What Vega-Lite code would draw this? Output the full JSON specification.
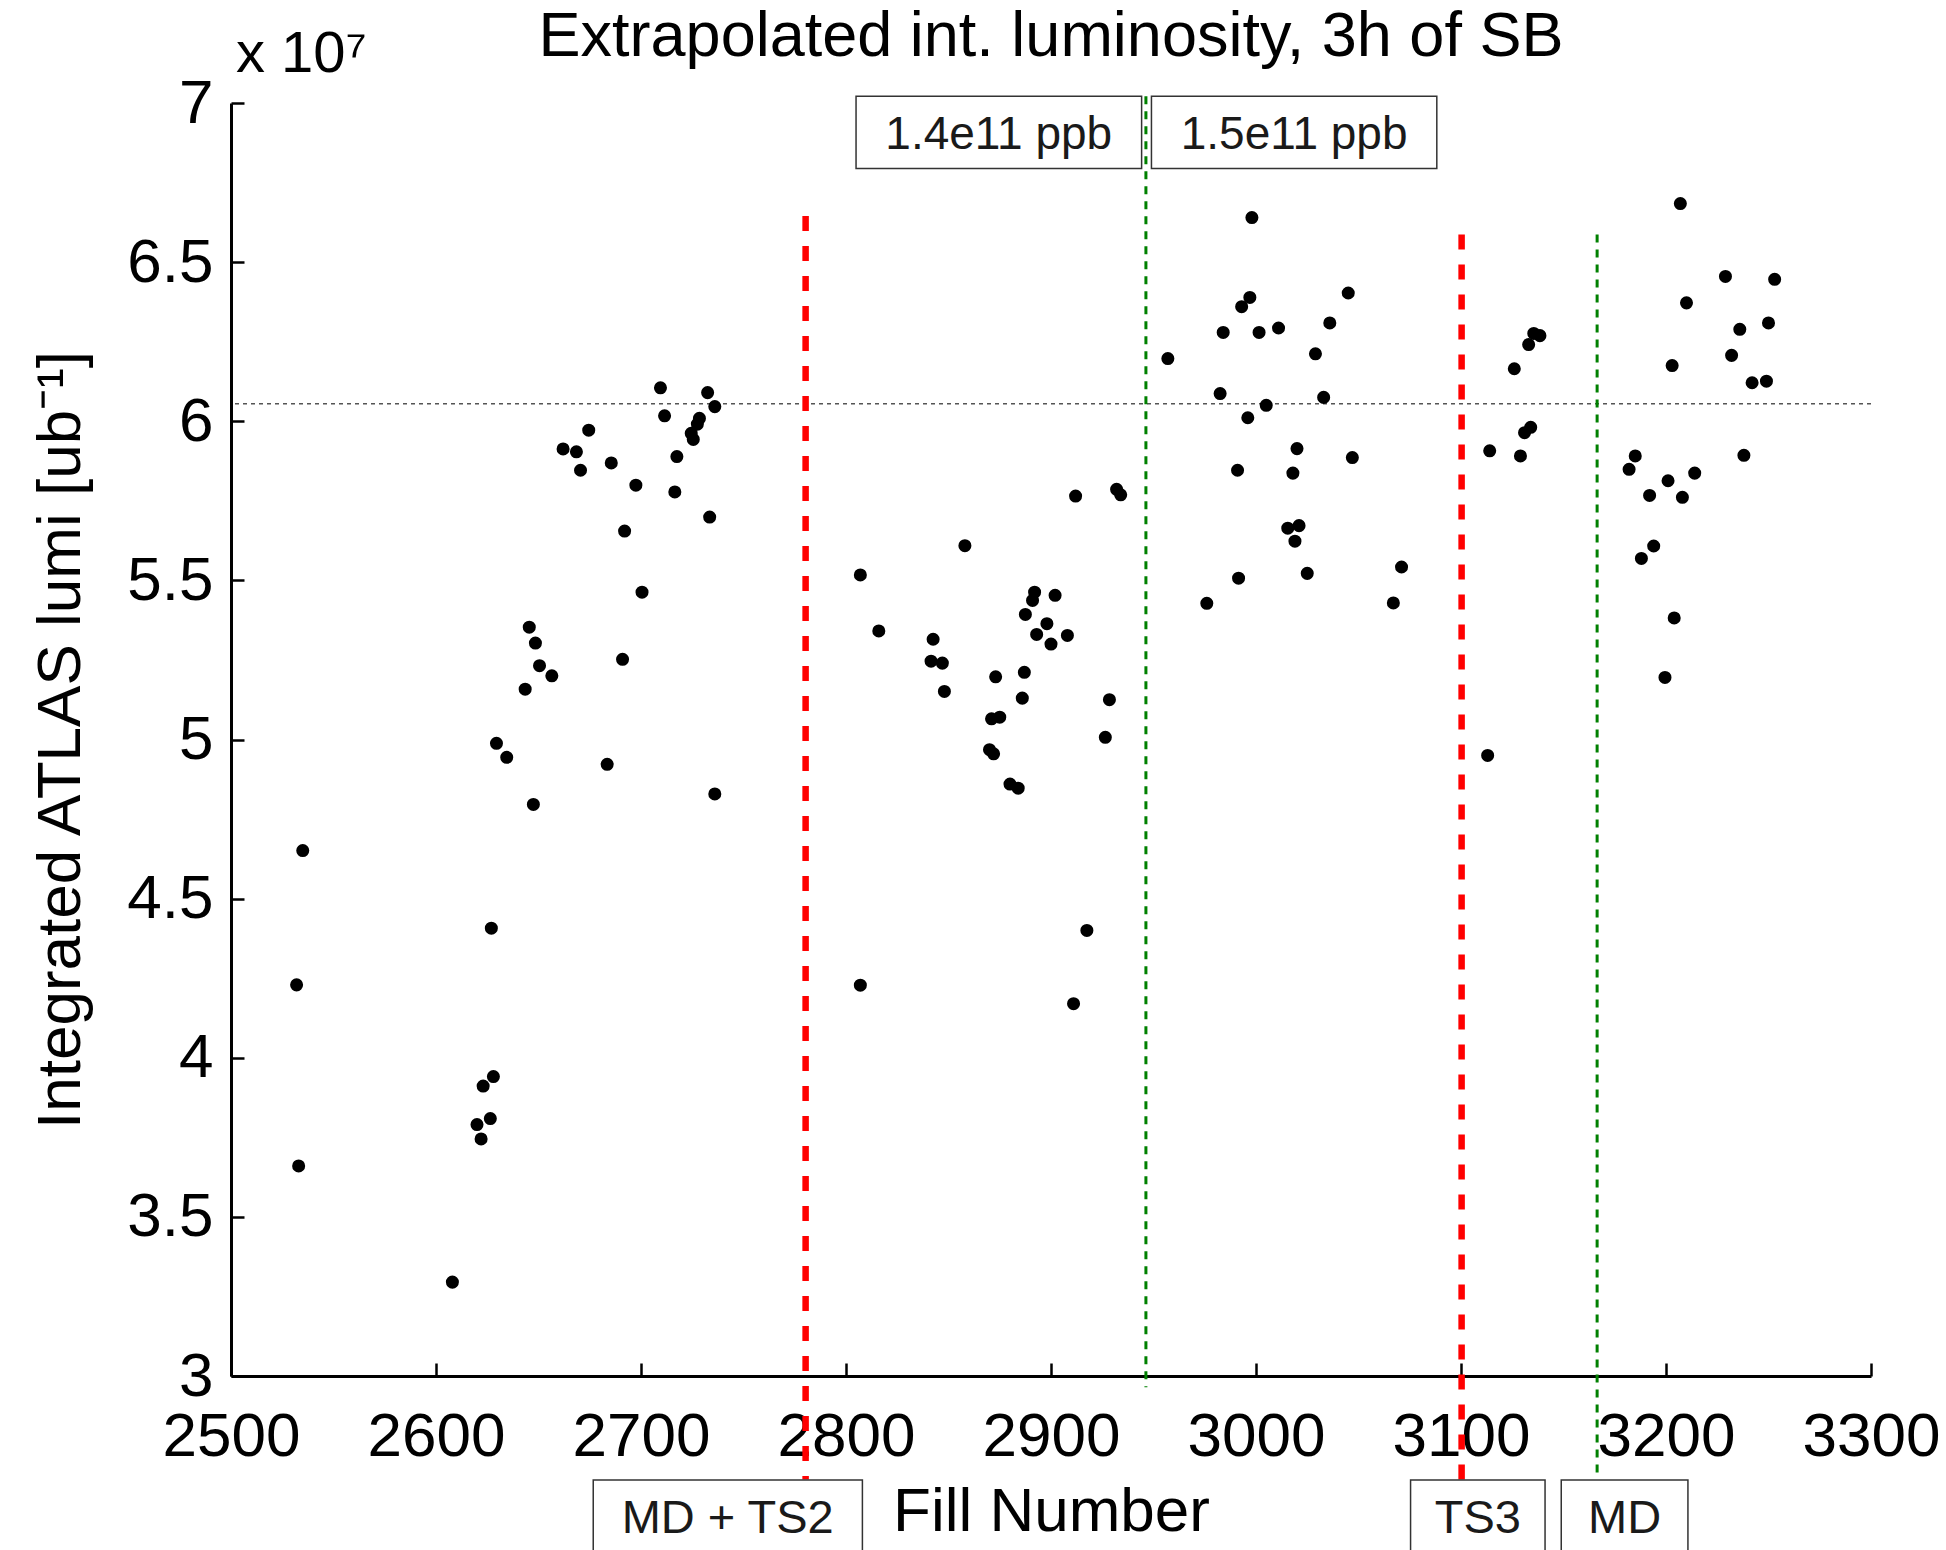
{
  "$schema": "https://vega.github.io/schema/vega-lite/v6.json",
  "width": 1640,
  "height": 1273,
  "autosize": {"type": "none"},
  "padding": {"left": 231, "top": 103, "right": 75, "bottom": 174},
  "background": "white",
  "config": {"view": {"stroke": null}, "font": "Liberation Sans"},
  "title": {
    "text": "Extrapolated int. luminosity, 3h of SB",
    "fontSize": 63,
    "fontWeight": "normal",
    "font": "Liberation Sans",
    "color": "black",
    "anchor": "middle",
    "frame": "group",
    "baseline": "alphabetic",
    "offset": -93
  },
  "layer": [
    {
      "data": {"values": [{"reference": 6.055}]},
      "mark": {"type": "rule", "color": "#555555", "strokeWidth": 1.5, "strokeDash": [4, 4]},
      "encoding": {
        "y": {"field": "reference", "type": "quantitative"}
      }
    },
    {
      "data": {"values": [{"event": "MD + TS2", "fill": 2780.3}]},
      "mark": {"type": "rule", "color": "#ff0000", "strokeWidth": 6.5, "strokeDash": [15, 15]},
      "encoding": {
        "x": {"field": "fill", "type": "quantitative"},
        "y": {"datum": 6.645, "type": "quantitative"},
        "y2": {"datum": 2.675}
      }
    },
    {
      "data": {"values": [{"event": "TS3", "fill": 3100.3}]},
      "mark": {"type": "rule", "color": "#ff0000", "strokeWidth": 6.5, "strokeDash": [15, 15]},
      "encoding": {
        "x": {"field": "fill", "type": "quantitative"},
        "y": {"datum": 6.587, "type": "quantitative"},
        "y2": {"datum": 2.675}
      }
    },
    {
      "data": {"values": [{"event": "bunch intensity change", "fill": 2946.3}]},
      "mark": {"type": "rule", "color": "#008000", "strokeWidth": 3, "strokeDash": [8, 7]},
      "encoding": {
        "x": {"field": "fill", "type": "quantitative"},
        "y": {"datum": 7.021, "type": "quantitative"},
        "y2": {"datum": 2.965}
      }
    },
    {
      "data": {"values": [{"event": "MD", "fill": 3166.4}]},
      "mark": {"type": "rule", "color": "#008000", "strokeWidth": 3, "strokeDash": [8, 7]},
      "encoding": {
        "x": {"field": "fill", "type": "quantitative"},
        "y": {"datum": 6.587, "type": "quantitative"},
        "y2": {"datum": 2.675}
      }
    },
    {
      "data": {"values": [
        {"fill": 2535, "lumi": 4.651}, {"fill": 2532, "lumi": 4.229}, {"fill": 2533, "lumi": 3.660},
        {"fill": 2608, "lumi": 3.295}, {"fill": 2620, "lumi": 3.790}, {"fill": 2622, "lumi": 3.745},
        {"fill": 2623, "lumi": 3.911}, {"fill": 2626.5, "lumi": 3.809}, {"fill": 2628, "lumi": 3.941},
        {"fill": 2627, "lumi": 4.407}, {"fill": 2629.5, "lumi": 4.988}, {"fill": 2634.5, "lumi": 4.944},
        {"fill": 2647.5, "lumi": 4.796}, {"fill": 2643.5, "lumi": 5.158}, {"fill": 2645.5, "lumi": 5.353},
        {"fill": 2648.5, "lumi": 5.303}, {"fill": 2650.5, "lumi": 5.232}, {"fill": 2656.5, "lumi": 5.200},
        {"fill": 2662, "lumi": 5.913}, {"fill": 2668.5, "lumi": 5.904}, {"fill": 2670.5, "lumi": 5.846},
        {"fill": 2674.5, "lumi": 5.972}, {"fill": 2683.5, "lumi": 4.922}, {"fill": 2685.5, "lumi": 5.869},
        {"fill": 2692, "lumi": 5.655}, {"fill": 2691, "lumi": 5.252}, {"fill": 2697.5, "lumi": 5.799},
        {"fill": 2700.5, "lumi": 5.463}, {"fill": 2709.5, "lumi": 6.105}, {"fill": 2711.5, "lumi": 6.017},
        {"fill": 2716.5, "lumi": 5.778}, {"fill": 2717.5, "lumi": 5.889}, {"fill": 2724.5, "lumi": 5.962},
        {"fill": 2725.5, "lumi": 5.943}, {"fill": 2727.5, "lumi": 5.991}, {"fill": 2728.5, "lumi": 6.009},
        {"fill": 2732.5, "lumi": 6.090}, {"fill": 2736, "lumi": 6.046}, {"fill": 2733.5, "lumi": 5.699},
        {"fill": 2736, "lumi": 4.829},
        {"fill": 2807, "lumi": 5.517}, {"fill": 2816, "lumi": 5.341}, {"fill": 2807, "lumi": 4.228},
        {"fill": 2858, "lumi": 5.609}, {"fill": 2842.5, "lumi": 5.315}, {"fill": 2841.5, "lumi": 5.246},
        {"fill": 2847, "lumi": 5.240}, {"fill": 2848, "lumi": 5.151}, {"fill": 2871, "lumi": 5.065},
        {"fill": 2875, "lumi": 5.070}, {"fill": 2870, "lumi": 4.968}, {"fill": 2872, "lumi": 4.955},
        {"fill": 2873, "lumi": 5.197}, {"fill": 2880, "lumi": 4.860}, {"fill": 2884, "lumi": 4.847},
        {"fill": 2887, "lumi": 5.211}, {"fill": 2886, "lumi": 5.130}, {"fill": 2887.5, "lumi": 5.393},
        {"fill": 2892, "lumi": 5.463}, {"fill": 2891, "lumi": 5.437}, {"fill": 2893, "lumi": 5.330},
        {"fill": 2898, "lumi": 5.364}, {"fill": 2900, "lumi": 5.300}, {"fill": 2902, "lumi": 5.453},
        {"fill": 2908, "lumi": 5.327}, {"fill": 2912, "lumi": 5.765}, {"fill": 2911, "lumi": 4.170},
        {"fill": 2917.5, "lumi": 4.400}, {"fill": 2926.5, "lumi": 5.007}, {"fill": 2928.5, "lumi": 5.125},
        {"fill": 2932, "lumi": 5.786}, {"fill": 2934, "lumi": 5.769},
        {"fill": 2998, "lumi": 6.640}, {"fill": 2997, "lumi": 6.389}, {"fill": 2993, "lumi": 6.360},
        {"fill": 3045, "lumi": 6.403}, {"fill": 2984, "lumi": 6.279}, {"fill": 3001.5, "lumi": 6.279},
        {"fill": 3011, "lumi": 6.293}, {"fill": 3036, "lumi": 6.309}, {"fill": 2957, "lumi": 6.197},
        {"fill": 3029, "lumi": 6.212}, {"fill": 2982.5, "lumi": 6.087}, {"fill": 3033, "lumi": 6.075},
        {"fill": 3005, "lumi": 6.050}, {"fill": 2996, "lumi": 6.011}, {"fill": 3020, "lumi": 5.914},
        {"fill": 3047, "lumi": 5.886}, {"fill": 2991, "lumi": 5.846}, {"fill": 3018, "lumi": 5.837},
        {"fill": 3015.5, "lumi": 5.664}, {"fill": 3021, "lumi": 5.672}, {"fill": 3019, "lumi": 5.623},
        {"fill": 2991.5, "lumi": 5.507}, {"fill": 3025, "lumi": 5.522}, {"fill": 3071, "lumi": 5.542},
        {"fill": 2976, "lumi": 5.428}, {"fill": 3067, "lumi": 5.429},
        {"fill": 3207, "lumi": 6.684}, {"fill": 3229, "lumi": 6.455}, {"fill": 3253, "lumi": 6.446},
        {"fill": 3210, "lumi": 6.372}, {"fill": 3236, "lumi": 6.289}, {"fill": 3250, "lumi": 6.309},
        {"fill": 3232, "lumi": 6.207}, {"fill": 3203, "lumi": 6.175}, {"fill": 3242, "lumi": 6.121},
        {"fill": 3249, "lumi": 6.126}, {"fill": 3135.5, "lumi": 6.276}, {"fill": 3138.5, "lumi": 6.269},
        {"fill": 3133, "lumi": 6.241}, {"fill": 3126, "lumi": 6.165}, {"fill": 3134, "lumi": 5.981},
        {"fill": 3131, "lumi": 5.964}, {"fill": 3114, "lumi": 5.907}, {"fill": 3129, "lumi": 5.891},
        {"fill": 3238, "lumi": 5.893}, {"fill": 3185, "lumi": 5.891}, {"fill": 3182, "lumi": 5.849},
        {"fill": 3214, "lumi": 5.837}, {"fill": 3201, "lumi": 5.813}, {"fill": 3192, "lumi": 5.767},
        {"fill": 3208, "lumi": 5.761}, {"fill": 3194, "lumi": 5.608}, {"fill": 3188, "lumi": 5.569},
        {"fill": 3204, "lumi": 5.382}, {"fill": 3199.5, "lumi": 5.195}, {"fill": 3113, "lumi": 4.950}
      ]},
      "mark": {"type": "circle", "size": 170, "color": "black", "opacity": 1},
      "encoding": {
        "x": {
          "field": "fill",
          "type": "quantitative",
          "scale": {"domain": [2500, 3300], "nice": false, "zero": false},
          "axis": {
            "title": "Fill Number",
            "values": [2500, 2600, 2700, 2800, 2900, 3000, 3100, 3200, 3300],
            "format": "d",
            "grid": false,
            "labelFont": "Liberation Sans",
            "labelFontSize": 62,
            "labelColor": "black",
            "labelFlush": false,
            "labelOverlap": false,
            "labelPadding": 43,
            "tickSize": -13,
            "tickWidth": 2.5,
            "tickColor": "black",
            "domainColor": "black",
            "domainWidth": 3,
            "titleFont": "Liberation Sans",
            "titleFontSize": 62,
            "titleFontWeight": "normal",
            "titleColor": "black",
            "titlePadding": 14
          }
        },
        "y": {
          "field": "lumi",
          "type": "quantitative",
          "scale": {"domain": [3, 7], "nice": false, "zero": false},
          "axis": {
            "title": "Integrated ATLAS lumi [ub⁻¹]",
            "values": [3, 3.5, 4, 4.5, 5, 5.5, 6, 6.5, 7],
            "format": "~g",
            "grid": false,
            "labelFont": "Liberation Sans",
            "labelFontSize": 62,
            "labelColor": "black",
            "labelFlush": false,
            "labelOverlap": false,
            "labelPadding": 31,
            "tickSize": -13,
            "tickWidth": 2.5,
            "tickColor": "black",
            "domainColor": "black",
            "domainWidth": 3,
            "titleFont": "Liberation Sans",
            "titleFontSize": 62,
            "titleFontWeight": "normal",
            "titleColor": "black",
            "titlePadding": 34
          }
        }
      }
    },
    {
      "data": {"values": [
        {"label": "1.4e11 ppb", "start": 2804.9, "end": 2944.2},
        {"label": "1.5e11 ppb", "start": 2949.0, "end": 3088.2}
      ]},
      "mark": {"type": "rect", "fill": "white", "stroke": "#333333", "strokeWidth": 1.5},
      "encoding": {
        "x": {"field": "start", "type": "quantitative"},
        "x2": {"field": "end"},
        "y": {"datum": 7.021, "type": "quantitative"},
        "y2": {"datum": 6.794}
      }
    },
    {
      "data": {"values": [
        {"label": "MD + TS2", "start": 2676.7, "end": 2808.0},
        {"label": "TS3", "start": 3075.4, "end": 3141.0},
        {"label": "MD", "start": 3148.9, "end": 3210.7}
      ]},
      "mark": {"type": "rect", "fill": "white", "stroke": "#333333", "strokeWidth": 1.5},
      "encoding": {
        "x": {"field": "start", "type": "quantitative"},
        "x2": {"field": "end"},
        "y": {"datum": 2.673, "type": "quantitative"},
        "y2": {"datum": 2.2}
      }
    },
    {
      "data": {"values": [
        {"label": "1.4e11 ppb", "mid": 2874.5},
        {"label": "1.5e11 ppb", "mid": 3018.6}
      ]},
      "mark": {"type": "text", "font": "Liberation Sans", "fontSize": 46, "color": "#1a1a1a", "align": "center", "baseline": "alphabetic"},
      "encoding": {
        "x": {"field": "mid", "type": "quantitative"},
        "y": {"datum": 6.855, "type": "quantitative"},
        "text": {"field": "label"}
      }
    },
    {
      "data": {"values": [
        {"label": "MD + TS2", "mid": 2742.3},
        {"label": "TS3", "mid": 3108.2},
        {"label": "MD", "mid": 3179.8}
      ]},
      "mark": {"type": "text", "font": "Liberation Sans", "fontSize": 47, "color": "#1a1a1a", "align": "center", "baseline": "alphabetic"},
      "encoding": {
        "x": {"field": "mid", "type": "quantitative"},
        "y": {"datum": 2.507, "type": "quantitative"},
        "text": {"field": "label"}
      }
    },
    {
      "data": {"values": [{"label": "x 10⁷"}]},
      "mark": {"type": "text", "font": "Liberation Sans", "fontSize": 58, "color": "black", "align": "left", "baseline": "alphabetic", "dx": 5, "dy": -31},
      "encoding": {
        "x": {"datum": 2500, "type": "quantitative"},
        "y": {"datum": 7, "type": "quantitative"},
        "text": {"field": "label"}
      }
    }
  ]
}
